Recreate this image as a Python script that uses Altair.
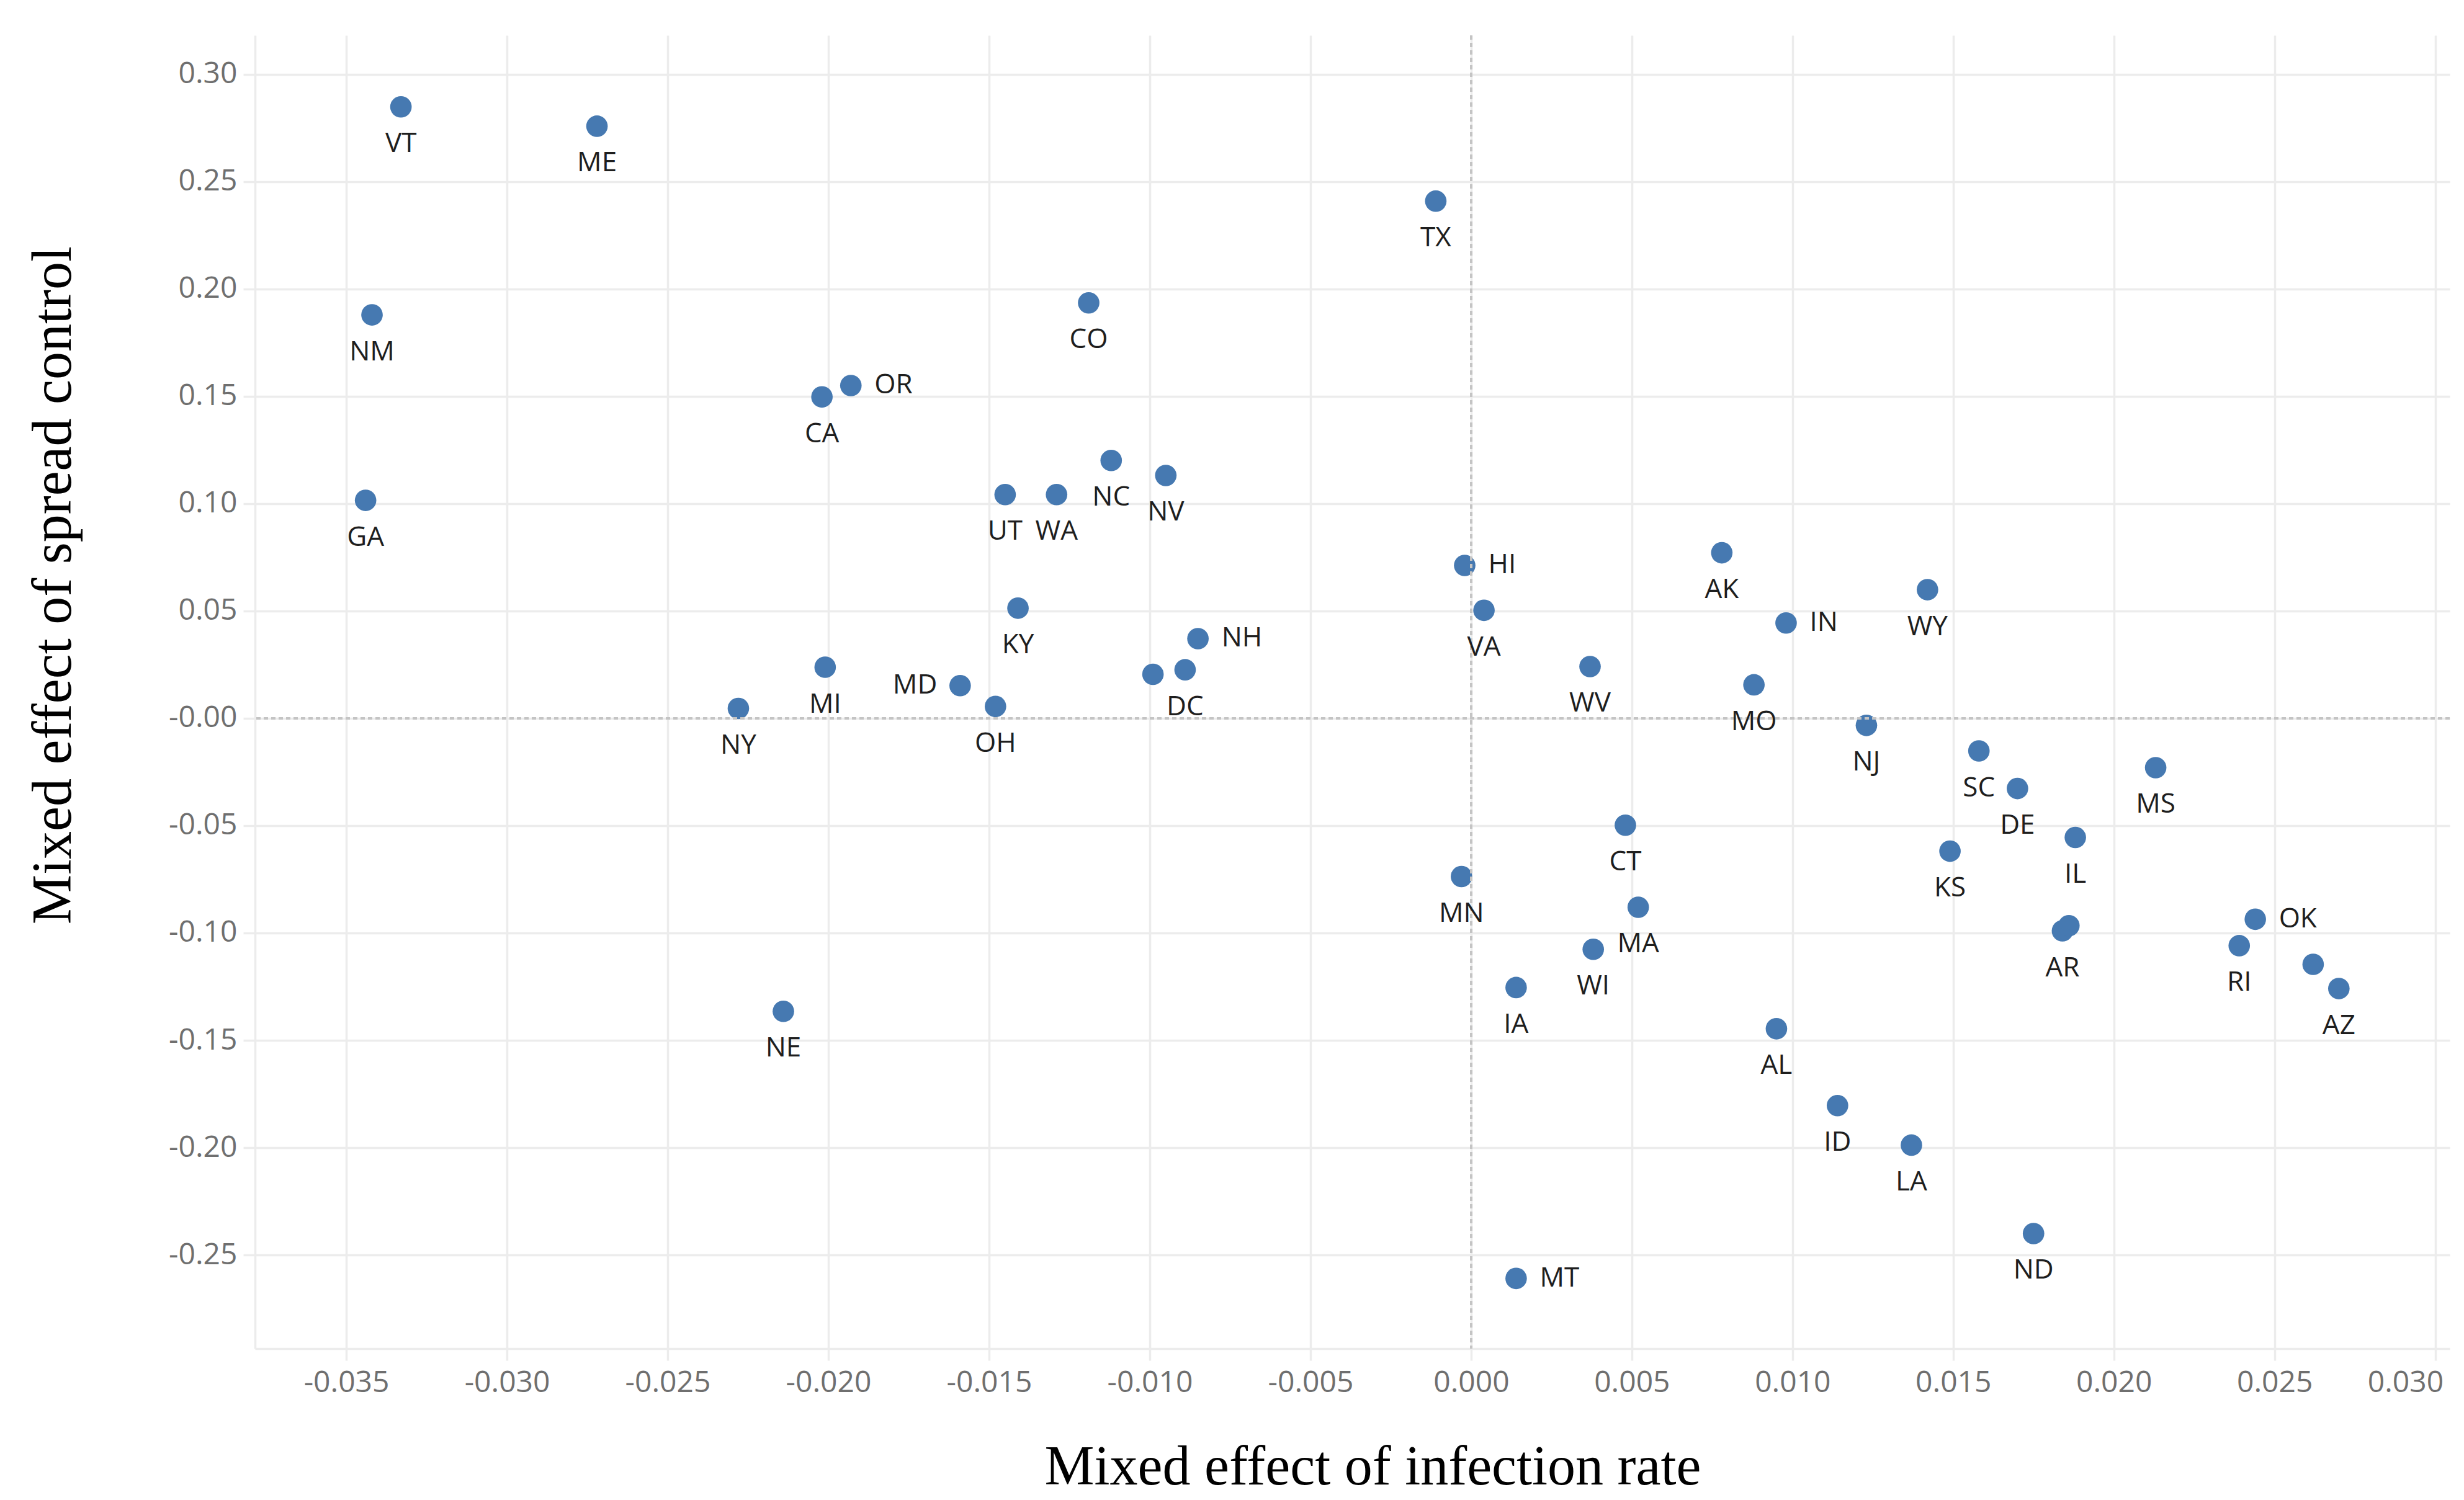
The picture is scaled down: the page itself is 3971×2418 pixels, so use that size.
import altair as alt
import pandas as pd

# ---- data ----
states = ["VT", "ME", "NM", "GA", "CA", "OR", "CO", "UT", "WA", "NC",
          "NV", "TX", "HI", "VA", "KY", "NH", "", "DC", "MI", "MD",
          "OH", "NY", "NE", "WV", "AK", "IN", "WY", "MO", "NJ", "SC",
          "DE", "MS", "IL", "KS", "CT", "MA", "WI", "MN", "IA", "MT",
          "AL", "ID", "LA", "ND", "AR", "", "OK", "RI", "", "AZ"]
infection = [-0.0333, -0.0272, -0.0342, -0.0344, -0.0202, -0.0193, -0.0119, -0.0145, -0.0129, -0.0112,
             -0.0095, -0.0011, -0.0002, 0.0004, -0.0141, -0.0085, -0.0099, -0.0089, -0.0201, -0.0159,
             -0.0148, -0.0228, -0.0214, 0.0037, 0.0078, 0.0098, 0.0142, 0.0088, 0.0123, 0.0158,
             0.0170, 0.0213, 0.0188, 0.0149, 0.0048, 0.0052, 0.0038, -0.0003, 0.0014, 0.0014,
             0.0095, 0.0114, 0.0137, 0.0175, 0.0184, 0.0186, 0.0244, 0.0239, 0.0262, 0.0270]
spread = [0.2848, 0.2758, 0.1879, 0.1015, 0.1497, 0.1550, 0.1935, 0.1042, 0.1042, 0.1201,
          0.1131, 0.2409, 0.0712, 0.0503, 0.0513, 0.0371, 0.0205, 0.0226, 0.0238, 0.0152,
          0.0055, 0.0046, -0.1365, 0.0241, 0.0771, 0.0444, 0.0599, 0.0156, -0.0033, -0.0152,
          -0.0327, -0.0230, -0.0555, -0.0619, -0.0498, -0.0880, -0.1076, -0.0737, -0.1254, -0.2609,
          -0.1446, -0.1804, -0.1988, -0.2400, -0.0990, -0.0966, -0.0936, -0.1059, -0.1146, -0.1259]

right_labels = ["OR", "HI", "NH", "IN", "OK", "MT"]
left_labels = ["MD"]

x_ticks = [-0.035, -0.030, -0.025, -0.020, -0.015, -0.010, -0.005, 0.0,
           0.005, 0.010, 0.015, 0.020, 0.025, 0.030]
y_ticks = [-0.25, -0.20, -0.15, -0.10, -0.05, 0.0, 0.05, 0.10, 0.15, 0.20, 0.25, 0.30]
x_domain = [-0.03784, 0.03045]
y_domain = [-0.2936, 0.3181]

df = pd.DataFrame({"state": states, "infection": infection, "spread": spread})
df["pos"] = ["right" if s in right_labels else ("left" if s in left_labels else "below")
             for s in states]

GRID = "#ececec"
PT = "#4679b1"

x_enc = alt.X(
    "infection:Q",
    scale=alt.Scale(domain=x_domain, nice=False, zero=False),
    axis=alt.Axis(
        values=x_ticks,
        labelExpr="replace(format(datum.value, '.3f'), '\u2212', '-')",
        labelFlush=30, labelFlushOffset=13,
        title="Mixed effect of infection rate",
        titleX=1801, titleY=218, titleAlign="center", titleBaseline="alphabetic",
        titleAngle=0, labelPadding=12,
    ),
)
y_enc = alt.Y(
    "spread:Q",
    scale=alt.Scale(domain=y_domain, nice=False, zero=False),
    axis=alt.Axis(
        values=y_ticks,
        labelExpr="datum.value == 0 ? '-0.00' : replace(format(datum.value, '.2f'), '\u2212', '-')",
        labelFlush=False,
        title="Mixed effect of spread control",
        titleX=-298, titleY=886, titleAlign="center", titleBaseline="alphabetic",
        titleAngle=270, labelPadding=10,
    ),
)

base = alt.Chart(df)

zero_v = alt.Chart(df).mark_rule(color="#c4c4c4", strokeWidth=3, strokeDash=[7, 5]).encode(
    x=alt.datum(0))
zero_h = alt.Chart(df).mark_rule(color="#c4c4c4", strokeWidth=3, strokeDash=[7, 5]).encode(
    y=alt.datum(0))

points = base.mark_circle(size=1200, color=PT, opacity=1).encode(x=x_enc, y=y_enc)

txt = dict(font="Open Sans", fontSize=44, color="#1e1e1e", baseline="middle")
lab_below = base.transform_filter(alt.datum.pos == "below").mark_text(
    align="center", dy=60, **txt).encode(x="infection:Q", y="spread:Q", text="state:N")
lab_right = base.transform_filter(alt.datum.pos == "right").mark_text(
    align="left", dx=38, **txt).encode(x="infection:Q", y="spread:Q", text="state:N")
lab_left = base.transform_filter(alt.datum.pos == "left").mark_text(
    align="right", dx=-37, **txt).encode(x="infection:Q", y="spread:Q", text="state:N")

chart = alt.layer(points, zero_v, zero_h, lab_below, lab_right, lab_left).properties(
    width=3537, height=2117,
    autosize=alt.AutoSizeParams(type="none"),
    padding={"left": 403, "top": 49, "right": 15, "bottom": 240},
    background="white",
).configure_view(strokeWidth=0).configure_axis(
    domain=True, domainColor=GRID, domainWidth=3.5,
    ticks=True, tickColor=GRID, tickWidth=3.5, tickSize=19,
    grid=True, gridColor=GRID, gridWidth=3.5,
    labelFont="Open Sans", labelFontSize=48, labelColor="#6f6f6f",
    titleFont="Liberation Serif", titleFontSize=90, titleFontWeight="normal", titleColor="#000000",
)

chart.save("out.html", embed_options={"renderer": "svg", "actions": False})
